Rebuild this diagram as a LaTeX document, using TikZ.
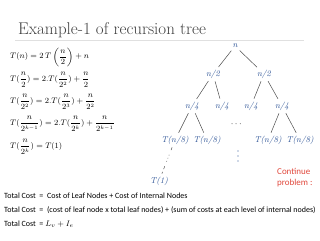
\documentclass[tikz,border=0pt]{standalone}
\usepackage{amsmath}
\usepackage{fontspec}
\usepackage{xcolor}
\usepackage{tikz}
\usetikzlibrary{positioning}
\newfontfamily\costfont{Carlito}
\definecolor{treeblue}{HTML}{2F5597}
\definecolor{notered}{HTML}{E0483C}
\definecolor{titlegray}{HTML}{404040}

\begin{document}
\begin{tikzpicture}[
    x=1pt, y=-1pt,
    lvl/.style={inner sep=1pt, text=treeblue, font=\fontsize{8.5}{10}\selectfont\itshape},
    eqn/.style={anchor=west, inner sep=0pt, font=\fontsize{7.8}{9}\selectfont},
    cost/.style={anchor=west, inner sep=0pt, font=\costfont\fontsize{8}{9}\selectfont},
    note/.style={anchor=west, inner sep=0pt, text=notered, font=\costfont\fontsize{9}{10}\selectfont},
    edge/.style={draw=black!70, line width=0.5pt, shorten >=2pt, shorten <=2pt},
]
    \useasboundingbox (0,0) rectangle (320,240);
    \clip (0,0) rectangle (320,240);

    % Title
    \node[anchor=west, inner sep=0pt, text=titlegray, font=\fontsize{17}{19}\selectfont] (title) at (18,30) {Example-1 of recursion tree};
    \draw[black!12, line width=0.4pt] (15,40) -- (304,40);

    % Equations
    \node[eqn] (eq1) at (10,57) {$T(n) = 2\,T\left(\dfrac{n}{2}\right) + n$};
    \node[eqn] (eq2) at (10,80) {$T(\dfrac{n}{2}) = 2.T(\dfrac{n}{2^2}) + \dfrac{n}{2}$};
    \node[eqn] (eq3) at (10,102) {$T(\dfrac{n}{2^2}) = 2.T(\dfrac{n}{2^3}) + \dfrac{n}{2^2}$};
    \node[eqn] (eq4) at (10,124) {$T(\dfrac{n}{2^{k-1}}) = 2.T(\dfrac{n}{2^k}) + \dfrac{n}{2^{k-1}}$};
    \node[eqn] (eq5) at (10,147) {$T(\dfrac{n}{2^k}) = T(1)$};

    % Tree levels
    \node[lvl] (root) at (235,46) {n};
    \node[lvl] (half1) at (213,74) {n/2};
    \node[lvl] (half2) at (264,74) {n/2};
    \node[lvl] (qrt1) at (192,106) {n/4};
    \node[lvl] (qrt2) at (222,106) {n/4};
    \node[lvl] (qrt3) at (251,106) {n/4};
    \node[lvl] (qrt4) at (282,106) {n/4};
    \node[lvl] (eig1) at (175,140) {T(n/8)};
    \node[lvl] (eig2) at (207,140) {T(n/8)};
    \node[lvl] (eig3) at (268,140) {T(n/8)};
    \node[lvl] (eig4) at (300,140) {T(n/8)};
    \node[lvl] (base) at (159,181) {T(1)};
    \node[inner sep=0pt, font=\fontsize{9}{10}\selectfont] (hdots) at (237,124) {$\cdots$};

    % Vertical dots
    \foreach \yy in {151,156,161}
        \fill[treeblue] (238,\yy) circle (0.6pt);

    % Edges
    \draw[edge] (root) -- (half1);
    \draw[edge] (root) -- (half2);
    \draw[edge] (half1) -- (qrt1);
    \draw[edge] (half1) -- (qrt2);
    \draw[edge] (half2) -- (qrt3);
    \draw[edge] (half2) -- (qrt4);
    \draw[edge] (qrt1) -- (eig1);
    \draw[edge] (qrt1) -- (eig2);
    \draw[edge] (qrt4) -- (eig3);
    \draw[edge] (qrt4) -- (eig4);
    \draw[edge, dash pattern=on 3pt off 5pt on 0.8pt off 2.5pt on 0.8pt off 2.5pt on 0.8pt off 5pt on 3pt] (eig1) -- (base);

    % Note
    \node[note] (note1) at (277,171) {Continue};
    \node[note] (note2) at (277,183) {problem :};

    % Costs
    \node[cost] (cost1) at (4,196) {Total Cost \ = \ Cost of Leaf Nodes + Cost of Internal Nodes};
    \node[cost] (cost2) at (4,210) {Total Cost \ = \ (cost of leaf node x total leaf nodes) + (sum of costs at each level of internal nodes)};
    \node[cost] (cost3) at (4,224) {Total Cost \ = $L_v + I_e$};
\end{tikzpicture}
\end{document}
